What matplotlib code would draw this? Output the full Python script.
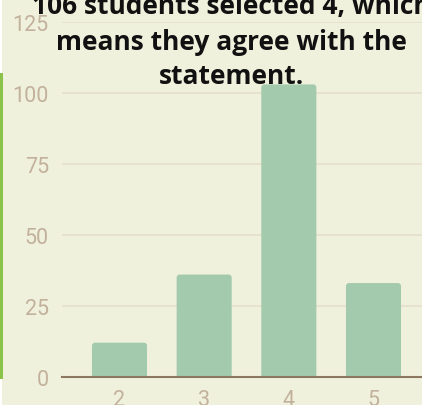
import matplotlib
matplotlib.use("Agg")
import matplotlib.pyplot as plt
from matplotlib.patches import Rectangle, FancyBboxPatch

categories = ["2", "3", "4", "5"]
values = [12, 36, 103, 33]
y_ticks = [0, 25, 50, 75, 100, 125]
title_lines = ["106 students selected 4, which",
               "means they agree with the",
               "statement."]

W, H = 422, 406
BG = "#F0F1DC"
BAR = "#A3CAAD"
GRID = "#E4DFCB"
BASE = "#8C7760"
TICK = "#C2B19B"

plt.rcParams["font.family"] = ["Roboto", "DejaVu Sans"]

fig = plt.figure(figsize=(W / 100, H / 100), dpi=100)
fig.patch.set_facecolor(BG)

# white left edge and green accent strip
fig.patches.append(Rectangle((0, 0), 2 / W, 1, transform=fig.transFigure,
                             facecolor="white", edgecolor="none"))
fig.patches.append(Rectangle((0, (H - 380) / H), 2.5 / W, (380 - 74) / H,
                             transform=fig.transFigure, facecolor="#8BC34A",
                             edgecolor="none"))

y0, y125 = 377.7, 23.0
ax = fig.add_axes([62 / W, (H - y0) / H, 1 - 62 / W, (y0 - y125) / H])
ax.set_facecolor(BG)
ax.patch.set_alpha(0)

x = list(range(len(categories)))
bars = ax.bar(x, values, width=0.65, color=BAR, alpha=0)
px_x = 1 / 84.67
px_y = 125 / (y0 - y125)
for b in bars:
    p = FancyBboxPatch((b.get_x(), -3 * px_y), b.get_width(),
                       b.get_height() + 3 * px_y,
                       boxstyle=f"round,pad=0,rounding_size={3 * px_x}",
                       mutation_aspect=px_y / px_x,
                       facecolor=BAR, edgecolor="none", zorder=2)
    ax.add_patch(p)

ax.set_xlim(-0.679, 3.573)
ax.set_ylim(0, 125)
ax.set_yticks(y_ticks)
ax.set_xticks(x)
ax.set_xticklabels(categories)
ax.grid(axis="y", color=GRID, linewidth=1.2, zorder=0)
ax.set_axisbelow(True)
for s in ["top", "right", "left"]:
    ax.spines[s].set_visible(False)
ax.spines["bottom"].set_color(BASE)
ax.spines["bottom"].set_linewidth(1.5)
ax.spines["bottom"].set_zorder(3)
ax.tick_params(axis="both", length=0, labelsize=15.5, labelcolor=TICK)
ax.tick_params(axis="y", pad=9.5)
ax.tick_params(axis="x", pad=9)

for i, (line, base) in enumerate(zip(title_lines, [14, 50, 84])):
    fig.text(231 / W, 1 - base / H, line, ha="center", va="baseline",
             fontfamily="Open Sans", fontweight="bold", fontsize=19,
             color="#111111")

fig.savefig("out.png", dpi=100, facecolor=BG)
